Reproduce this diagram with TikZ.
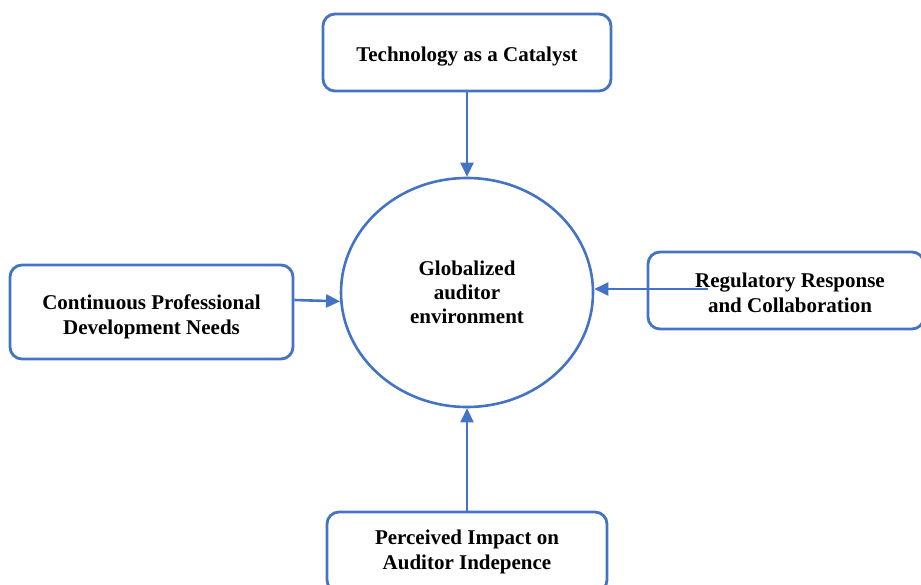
\documentclass[tikz,border=0pt]{standalone}
\usepackage{fontspec}
\setmainfont{Liberation Serif}
\usetikzlibrary{shapes.geometric,arrows.meta}
\definecolor{lineblue}{HTML}{4472C4}
\newcommand\lowertext[2]{\raisebox{-#1}[\height][\depth]{\begin{tabular}{@{}c@{}}#2\end{tabular}}}
\begin{document}
\begin{tikzpicture}[x=1pt,y=-1pt,
  box/.style={draw=lineblue, line width=2.8pt, rounded corners=12pt, fill=white,
    align=center, inner sep=0pt,
    font=\fontsize{21}{25}\selectfont\bfseries},
  hub/.style={draw=lineblue, line width=2.6pt, ellipse, inner sep=0pt,
    minimum width=252pt, minimum height=229pt, align=center,
    font=\fontsize{21}{24}\selectfont\bfseries},
  link/.style={draw=lineblue, line width=2.6pt, -{Triangle[length=14pt,width=13pt]}}]
\useasboundingbox (0,0) rectangle (921,585);
\node[hub] (glob) at (467,292.5) {Globalized\\auditor\\environment};
\node[box, minimum width=288pt, minimum height=77pt] (tech) at (467,52.5) {\lowertext{4pt}{Technology as a Catalyst}};
\node[box, minimum width=283pt, minimum height=94pt] (cpd) at (151.5,312) {\lowertext{5pt}{Continuous Professional\\Development Needs}};
\node[box, minimum width=276pt, minimum height=77pt] (reg) at (786,290.5) {\lowertext{5pt}{\hspace*{8pt}Regulatory Response\\\hspace*{8pt}and Collaboration}};
\node[box, minimum width=280pt, minimum height=80pt] (perc) at (467,552) {Perceived Impact on\\Auditor Indepence};
\coordinate (regin) at (708,289);
\coordinate (cpdout) at ([yshift=12pt]cpd.east);
\draw[link] (tech.south) -- (glob.north);
\draw[link] (cpdout) -- (glob.184);
\draw[link] (regin) -- (regin -| glob.east);
\draw[link] (perc.north) -- (glob.south);
\end{tikzpicture}
\end{document}
